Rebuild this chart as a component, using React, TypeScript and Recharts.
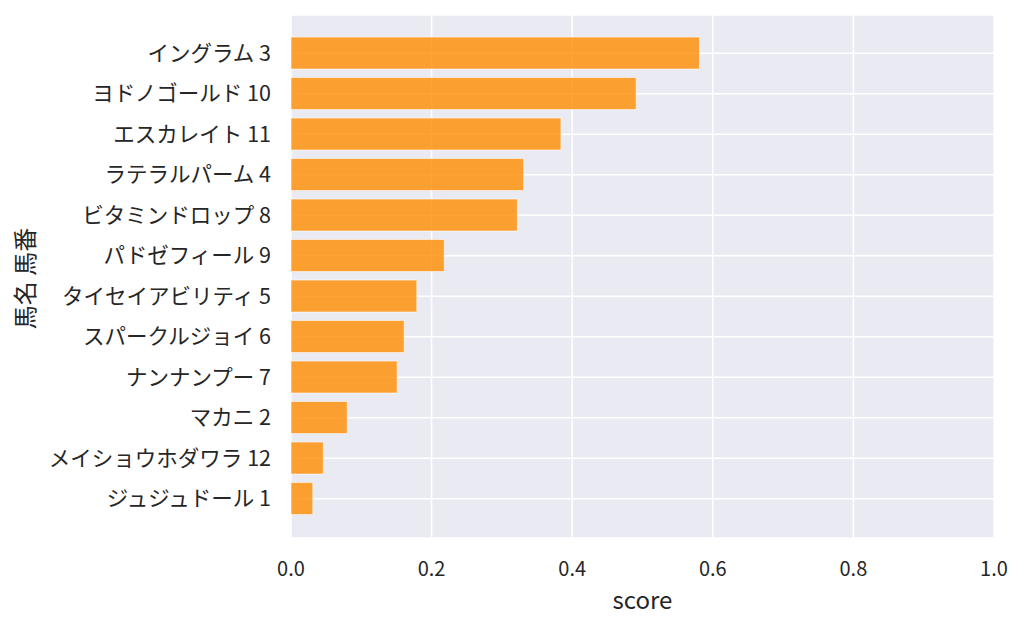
import React from "react";
import { BarChart, Bar, XAxis, YAxis, CartesianGrid } from "recharts";

const horses = [
  "イングラム 3",
  "ヨドノゴールド 10",
  "エスカレイト 11",
  "ラテラルパーム 4",
  "ビタミンドロップ 8",
  "パドゼフィール 9",
  "タイセイアビリティ 5",
  "スパークルジョイ 6",
  "ナンナンプー 7",
  "マカニ 2",
  "メイショウホダワラ 12",
  "ジュジュドール 1",
];
const scores = [0.581, 0.491, 0.384, 0.331, 0.322, 0.218, 0.179, 0.161, 0.151, 0.08, 0.046, 0.031];
const xTicks = [0, 0.2, 0.4, 0.6, 0.8, 1.0];

const data = horses.map((name, i) => ({ name, score: scores[i] }));

const FONT = "'Noto Sans CJK JP', 'Noto Sans', sans-serif";
const INK = "#262626";

function YLabel({ viewBox }: any) {
  const cx = 23;
  const cy = viewBox.y + viewBox.height / 2 + 2;
  return (
    <text
      x={cx}
      y={cy}
      transform={`rotate(-90, ${cx}, ${cy})`}
      textAnchor="middle"
      dominantBaseline="central"
      fill={INK}
      fontSize={24}
      fontFamily={FONT}
    >
      馬名 馬番
    </text>
  );
}

export default function App() {
  return (
    <div style={{ position: "absolute", left: 0, top: 0, background: "#fff", fontFamily: FONT }}>
      <BarChart
        width={1024}
        height={627}
        data={data}
        layout="vertical"
        margin={{ top: 15, right: 30, bottom: 0, left: 0 }}
      >
        <CartesianGrid fill="#EAEAF2" stroke="#ffffff" strokeWidth={1.5} />
        <XAxis
          type="number"
          dataKey="score"
          domain={[0, 1]}
          ticks={xTicks}
          tickFormatter={(v: number) => v.toFixed(1)}
          axisLine={false}
          tickLine={false}
          tickSize={0}
          tickMargin={24}
          height={89}
          tick={{ fill: INK, fontSize: 20, fontFamily: FONT }}
          label={{ value: "score", position: "insideBottom", offset: 18, fill: INK, fontSize: 24, fontFamily: FONT }}
        />
        <YAxis
          type="category"
          dataKey="name"
          width={291}
          axisLine={false}
          tickLine={false}
          tickSize={0}
          tickMargin={20}
          interval={0}
          padding={{ top: 18, bottom: 19 }}
          tick={{ fill: INK, fontSize: 21.5, fontFamily: FONT }}
          label={<YLabel />}
        />
        <Bar
          dataKey="score"
          fill="#FF8C00"
          fillOpacity={0.8}
          stroke="#ffffff"
          strokeOpacity={0.6}
          strokeWidth={1}
          isAnimationActive={false}
        />
      </BarChart>
    </div>
  );
}
